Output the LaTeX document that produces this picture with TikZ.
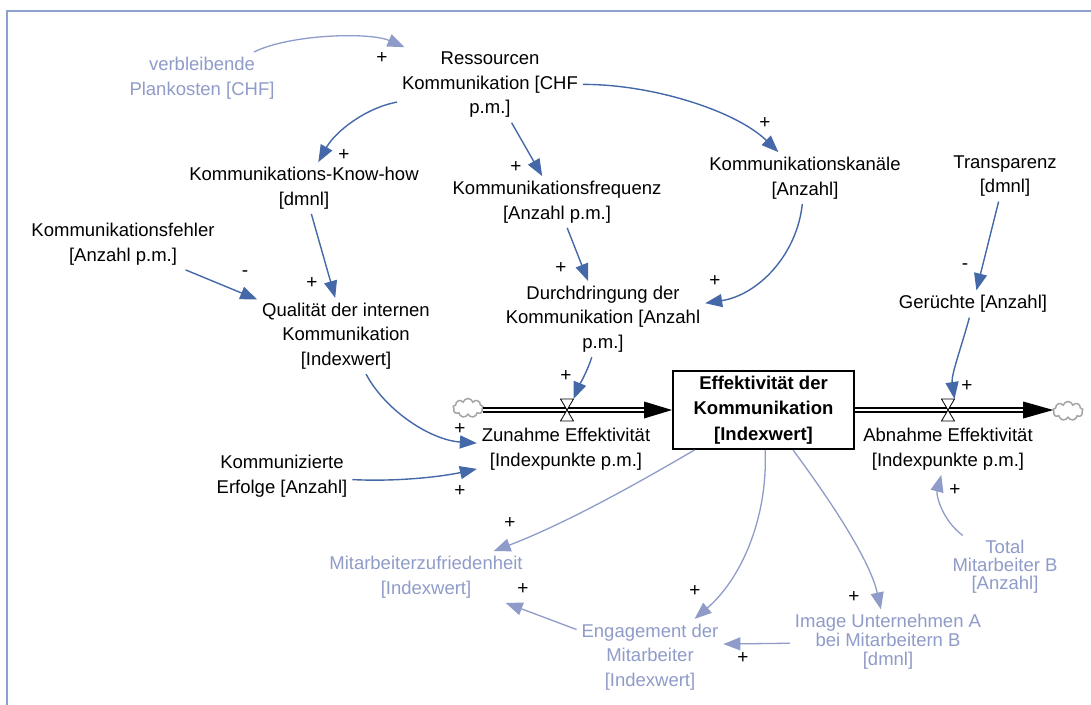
\documentclass[tikz,border=0pt]{standalone}
\usepackage{fontspec}
\setmainfont{Liberation Sans}
\usetikzlibrary{arrows.meta,calc,shapes.symbols}
\definecolor{linkblue}{RGB}{68,104,168}
\definecolor{paleblue}{RGB}{143,155,200}
\definecolor{framecol}{RGB}{140,162,206}
\definecolor{cloudgray}{RGB}{165,165,165}

\begin{document}
\begin{tikzpicture}[x=1pt,y=-1pt,
  var/.style={align=center, font=\fontsize{18.5}{24.5}\selectfont, inner sep=2pt, outer sep=3pt},
  aux/.style={var, text=paleblue},
  stockbox/.style={draw=black, line width=1.3pt, minimum width=181pt, minimum height=78pt,
    align=center, font=\fontsize{18.5}{25.5}\selectfont\bfseries, inner sep=0pt, outer sep=1pt},
  sign/.style={font=\fontsize{19}{19}\selectfont, inner sep=0pt},
  link/.style={draw=linkblue, line width=1.4pt, -{Triangle[length=17pt,width=13pt]}},
  auxlink/.style={draw=paleblue, line width=1.3pt, -{Triangle[length=17pt,width=13pt]}},
  pipe/.style={draw=black, line width=1.3pt, double=white, double distance=2.6pt},
  valveshape/.style={minimum width=13pt, minimum height=22pt, inner sep=0pt, outer sep=0pt},
  source/.style={cloud, cloud puffs=9, aspect=1.6, draw=cloudgray, line width=1.5pt,
    fill=white, minimum width=30pt, minimum height=19pt, inner sep=0pt, outer sep=0pt}
]
\useasboundingbox (0,0) rectangle (1091,704);
\begin{scope}
  \clip (0,0) rectangle (1091,704);
  \draw[framecol, line width=1.8pt] (7,11) rectangle (1120,730);
\end{scope}

% variables
\node[aux] (verbl)  at (202,78)  {verbleibende\\Plankosten [CHF]};
\node[var] (ress)   at (490,85)  {Ressourcen\\Kommunikation [CHF\\p.m.]};
\node[var] (know)   at (304,188) {Kommunikations-Know-how\\{[dmnl]}};
\node[var] (freq)   at (557,202) {Kommunikationsfrequenz\\{[Anzahl p.m.]}};
\node[var] (kanal)  at (805,178) {Kommunikationskanäle\\{[Anzahl]}};
\node[var] (transp) at (1005,176) {Transparenz\\{[dmnl]}};
\node[var] (fehler) at (123,244) {Kommunikationsfehler\\{[Anzahl p.m.]}};
\node[var] (qual)   at (346,336) {Qualität der internen\\Kommunikation\\{[Indexwert]}};
\node[var] (durch)  at (603,319) {Durchdringung der\\Kommunikation [Anzahl\\p.m.]};
\node[var] (ger)    at (973,304) {Gerüchte [Anzahl]};
\node[var] (komm)   at (282,476) {Kommunizierte\\Erfolge [Anzahl]};

% stock and flows
\node[stockbox] (stock) at (763.5,410) {Effektivität der\\Kommunikation\\{[Indexwert]}};
\node[source] (cloudL) at (468,408) {};
\node[source] (cloudR) at (1068,411) {};
\node[valveshape] (vL) at (567,410) {};
\node[valveshape] (vR) at (948,410) {};
\node[var] (zun) at (566,449) {Zunahme Effektivität\\{[Indexpunkte p.m.]}};
\node[var] (abn) at (948,449) {Abnahme Effektivität\\{[Indexpunkte p.m.]}};

\draw[pipe] (cloudL.east |- stock.west) -- ($(stock.west)+(-26,0)$);
\fill (stock.west) -- ++(-28,-8.5) -- ++(0,17) -- cycle;
\draw[pipe] (stock.east) -- ($(cloudR.west |- stock.east)+(-28,0)$);
\fill (cloudR.west |- stock.east) -- ++(-30,-8.5) -- ++(0,17) -- cycle;
\foreach \v in {vL,vR}
  \draw[fill=white, line width=0.8pt] (\v.north west) -- (\v.north east)
    -- (\v.south west) -- (\v.south east) -- cycle;

% auxiliary variables
\node[aux, font=\fontsize{18.5}{18}\selectfont] (total) at (1005,567) {Total\\Mitarbeiter B\\{[Anzahl]}};
\node[aux] (mz)  at (426,577) {Mitarbeiterzufriedenheit\\{[Indexwert]}};
\node[aux] (eng) at (650,657) {Engagement der\\Mitarbeiter\\{[Indexwert]}};
\node[aux, font=\fontsize{18.5}{19}\selectfont] (img) at (888,642) {Image Unternehmen A\\bei Mitarbeitern B\\{[dmnl]}};

% causal links
\draw[auxlink] (verbl) .. controls (290,34) and (370,32) .. (ress);
\draw[link] (ress) .. controls (365,108) and (335,132) .. (know);
\draw[link] (ress) -- (freq);
\draw[link] (ress) .. controls (650,84) and (735,110) .. (kanal);
\draw[link] (know) -- (qual);
\draw[link] (fehler) -- (qual);
\draw[link] (freq) -- (durch);
\draw[link] (kanal) .. controls (797,255) and (758,295) .. (durch);
\draw[link] (durch) .. controls (588,370) and (578,388) .. (vL.north east);
\draw[link] (transp) -- (ger);
\draw[link] (ger) .. controls (962,345) and (951,375) .. (vR.north east);
\draw[link] (qual) .. controls (385,410) and (430,440) .. (zun);
\draw[link] (komm) .. controls (400,482) and (445,476) .. (zun);
\draw[auxlink] (total) .. controls (942,520) and (936,495) .. (abn);
\draw[auxlink] (stock) .. controls (660,470) and (575,520) .. (mz);
\draw[auxlink] (stock) .. controls (768,520) and (740,580) .. (eng);
\draw[auxlink] (stock) .. controls (830,500) and (870,560) .. (img);
\draw[auxlink] (img) -- (eng.10);
\draw[auxlink] (eng) -- (mz.-18);

% polarities
\node[sign] (s1)  at (382,58)  {+};
\node[sign] (s2)  at (344,155) {+};
\node[sign] (s3)  at (516,167) {+};
\node[sign] (s4)  at (765,123) {+};
\node[sign] (s5)  at (245,274) {-};
\node[sign] (s6)  at (312,283) {+};
\node[sign] (s7)  at (561,268) {+};
\node[sign] (s8)  at (715,281) {+};
\node[sign] (s9)  at (965,267) {-};
\node[sign] (s10) at (566,376) {+};
\node[sign] (s11) at (967,386) {+};
\node[sign] (s12) at (460,429) {+};
\node[sign] (s13) at (460,491) {+};
\node[sign] (s14) at (955,490) {+};
\node[sign] (s15) at (510,523) {+};
\node[sign] (s16) at (695,591) {+};
\node[sign] (s17) at (854,597) {+};
\node[sign] (s18) at (743,658) {+};
\node[sign] (s19) at (523,589) {+};
\end{tikzpicture}
\end{document}
